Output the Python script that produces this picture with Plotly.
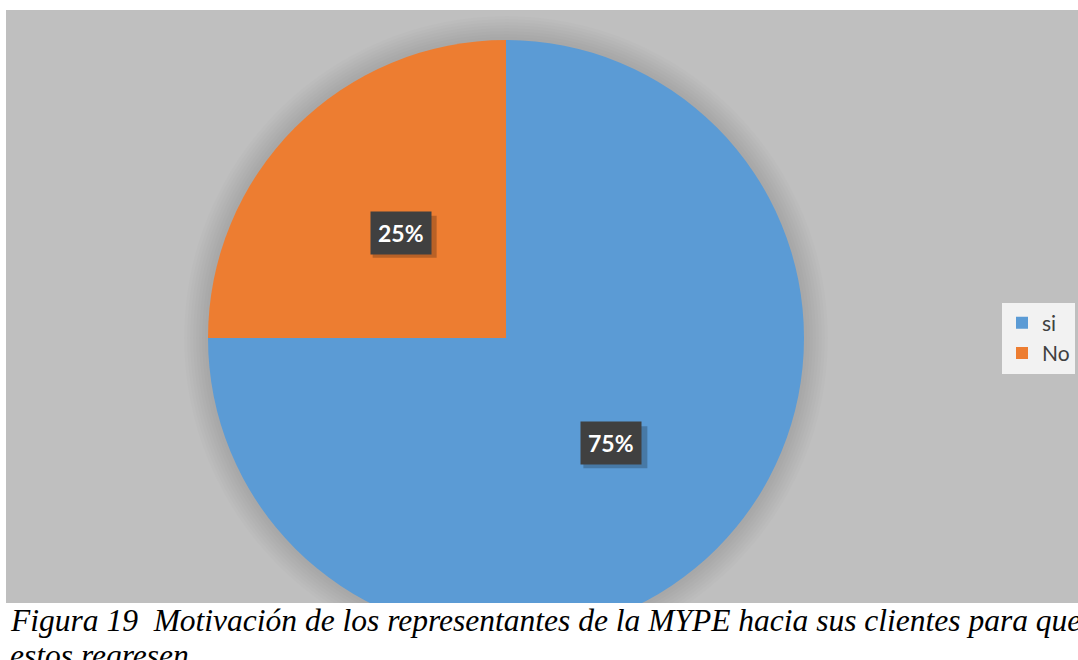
import math
import plotly.graph_objects as go

# data
labels = ["si", "No"]
values = [75, 25]
colors = ["#5b9bd5", "#ed7d31"]
caption_1 = "Figura 19  Motivación de los representantes de la MYPE hacia sus clientes para que"
caption_2 = "estos regresen"

W, H = 1078, 660
cx, cy, r = 506, 338, 298  # pie centre / radius in px (from top-left)
area_top, area_bottom, area_left = 10, 603, 6


def fx(px):
    return px / W


def fy(py):
    return (H - py) / H


fig = go.Figure(go.Pie(
    labels=labels, values=values, sort=False, direction="clockwise", rotation=0,
    marker=dict(colors=colors, line=dict(width=0)),
    textinfo="none", hoverinfo="label+percent",
    domain=dict(x=[fx(cx - r), fx(cx + r)], y=[fy(cy + r), fy(cy - r)]),
))

shapes = [
    # grey chart area
    dict(type="rect", xref="paper", yref="paper", x0=fx(area_left), x1=1, y0=fy(area_bottom), y1=fy(area_top),
         fillcolor="#bfbfbf", line=dict(width=0), layer="below"),
]
# soft shadow behind the pie
for k in range(24, 0, -3):
    shapes.append(dict(type="circle", xref="paper", yref="paper",
                       x0=fx(cx - r - k), x1=fx(cx + r + k),
                       y0=fy(cy + r + k), y1=fy(cy - r - k),
                       fillcolor="rgba(0,0,0,0.012)", line=dict(width=0), layer="below"))
# white page below the chart area (cuts the pie)
shapes.append(dict(type="rect", xref="paper", yref="paper", x0=0, x1=1, y0=0, y1=fy(area_bottom),
                   fillcolor="white", line=dict(width=0), layer="above"))

annotations = []
total = sum(values)
cum = 0
for lab, v in zip(labels, values):
    mid = (cum + v / 2) / total
    cum += v
    th = 2 * math.pi * mid
    lx = cx + 0.5 * r * math.sin(th)
    ly = cy - 0.5 * r * math.cos(th)
    # label shadow
    shapes.append(dict(type="rect", xref="paper", yref="paper", xsizemode="pixel", ysizemode="pixel",
                       xanchor=fx(lx), yanchor=fy(ly), x0=-28, x1=36, y0=-25, y1=17,
                       fillcolor="rgba(0,0,0,0.22)", line=dict(width=0), layer="above"))
    annotations.append(dict(x=fx(lx), y=fy(ly), xref="paper", yref="paper",
                            xanchor="center", yanchor="middle",
                            text=f"<b>{round(100 * v / total)}%</b>", showarrow=False, bgcolor="#404040",
                            font=dict(family="Lato", size=23, color="white"),
                            borderpad=7))

annotations.append(dict(x=fx(8), y=fy(area_bottom - 2), xref="paper", yref="paper", xanchor="left", yanchor="top",
                        text=f"<i>{caption_1}</i>", showarrow=False,
                        font=dict(family="Liberation Serif", size=31.5, color="black")))
annotations.append(dict(x=fx(8), y=fy(area_bottom + 33), xref="paper", yref="paper", xanchor="left", yanchor="top",
                        text=f"<i>{caption_2}</i>", showarrow=False,
                        font=dict(family="Liberation Serif", size=31.5, color="black")))

fig.update_layout(
    width=W, height=H, margin=dict(l=0, r=0, t=0, b=0),
    paper_bgcolor="white", plot_bgcolor="white",
    shapes=shapes, annotations=annotations,
    legend=dict(x=fx(1075), xanchor="right", y=fy(cy), yanchor="middle",
                bgcolor="#f2f2f2", font=dict(family="Lato", size=21, color="#404040"),
                itemwidth=30),
)

# drop the default 8px page margin so the figure fills the window
fig.write_html("out.html", config={"displayModeBar": False},
               post_script="document.body.style.margin='0';document.body.style.overflow='hidden';")
